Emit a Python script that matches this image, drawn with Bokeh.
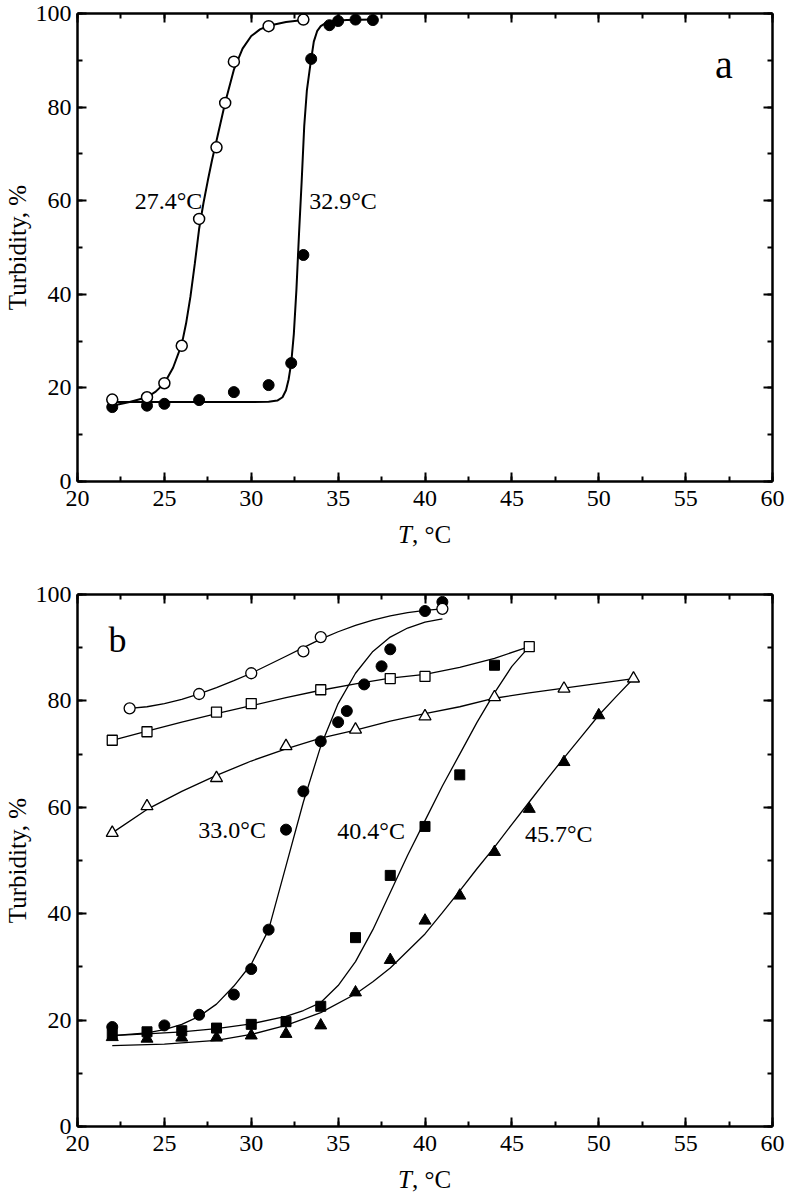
from bokeh.plotting import figure
from bokeh.models import Range1d, LinearAxis, SingleIntervalTicker, Label
from bokeh.layouts import column
from bokeh.core.properties import value
from bokeh.embed import file_html
from bokeh.resources import INLINE

FONT = "Liberation Serif"

# ---------------- Panel a data ----------------
a_open_T = [22, 24, 25, 26, 27, 28, 28.5, 29, 31, 33]
a_open_v = [17.5, 18.0, 21.0, 29.0, 56.1, 71.4, 80.9, 89.7, 97.3, 98.7]
a_fill_T = [22, 24, 25, 27, 29, 31, 32.3, 33, 33.45, 34.5, 35, 36, 37]
a_fill_v = [15.9, 16.2, 16.6, 17.4, 19.1, 20.6, 25.3, 48.4, 90.3, 97.5, 98.4, 98.7, 98.6]

a_open_fit_T = [22, 23, 24, 24.5, 25, 25.5, 26, 26.25, 26.5, 26.75, 27, 27.25, 27.5, 27.75,
                28, 28.5, 29, 29.5, 30, 30.5, 31, 32, 33]
a_open_fit_v = [16.2, 17.0, 18.0, 19.2, 21.0, 24.3, 29.3, 33.8, 39.5, 46.5, 54.0, 59.5, 64.3, 68.8,
                72.8, 81.0, 88.0, 92.5, 95.2, 96.6, 97.4, 98.2, 98.6]
a_fill_fit_T = [22, 24, 26, 28, 30, 31, 31.5, 31.8, 32.0, 32.15, 32.3, 32.45, 32.6, 32.75, 32.9,
                33.05, 33.2, 33.4, 33.6, 33.8, 34.0, 34.3, 34.7, 35.5, 37]
a_fill_fit_v = [17.0, 17.0, 17.0, 17.0, 17.0, 17.05, 17.3, 18.0, 19.5, 21.8, 25.3, 31.5, 41.0, 53.0, 64.0,
                76.0, 83.5, 89.0, 94.0, 96.3, 97.3, 98.0, 98.4, 98.6, 98.7]

a_labels = ["27.4°C", "32.9°C"]

# ---------------- Panel b data ----------------
b_oc_T = [23, 27, 30, 33, 34, 41]
b_oc_v = [78.6, 81.3, 85.2, 89.3, 92.0, 97.3]
b_fc_T = [22, 25, 27, 29, 30, 31, 32, 33, 34, 35, 35.5, 36.5, 37.5, 38, 40, 41]
b_fc_v = [18.7, 19.0, 21.0, 24.8, 29.6, 37.0, 55.8, 63.0, 72.4, 76.0, 78.1, 83.1, 86.5, 89.7, 96.9, 98.6]
b_os_T = [22, 24, 28, 30, 34, 38, 40, 46]
b_os_v = [72.6, 74.2, 77.9, 79.5, 82.1, 84.2, 84.6, 90.2]
b_fs_T = [22, 24, 26, 28, 30, 32, 34, 36, 38, 40, 42, 44]
b_fs_v = [17.3, 17.8, 18.0, 18.5, 19.2, 19.7, 22.6, 35.5, 47.2, 56.4, 66.1, 86.7]
b_ot_T = [22, 24, 28, 32, 36, 40, 44, 48, 52]
b_ot_v = [55.2, 60.2, 65.5, 71.5, 74.6, 77.1, 80.7, 82.3, 84.2]
b_ft_T = [22, 24, 26, 28, 30, 32, 34, 36, 38, 40, 42, 44, 46, 48, 50]
b_ft_v = [16.8, 16.5, 16.7, 16.7, 17.1, 17.4, 19.0, 25.2, 31.3, 38.7, 43.4, 51.6, 59.7, 68.5, 77.3]

b_oc_fit_T = [23, 24, 25, 26, 27, 28, 29, 30, 31, 32, 33, 34, 35, 36, 37, 38, 39, 40, 41]
b_oc_fit_v = [78.6, 78.9, 79.5, 80.3, 81.3, 82.5, 83.8, 85.2, 86.8, 88.4, 90.0, 91.6, 93.0, 94.2,
              95.2, 96.0, 96.6, 97.0, 97.3]
b_fc_fit_T = [22, 24, 25, 26, 27, 28, 29, 30, 31, 32, 33, 34, 35, 36, 37, 38, 39, 40, 41]
b_fc_fit_v = [17.1, 17.6, 18.2, 19.2, 20.7, 23.0, 26.4, 30.5, 37.0, 49.0, 61.0, 71.5, 79.5, 85.2,
              89.3, 92.0, 93.7, 94.8, 95.4]
b_os_fit_T = [22, 24, 26, 28, 30, 32, 34, 36, 38, 40, 42, 44, 46]
b_os_fit_v = [72.6, 74.3, 76.0, 77.6, 79.1, 80.6, 82.0, 83.2, 84.3, 85.0, 86.3, 88.0, 90.2]
b_fs_fit_T = [22, 24, 26, 28, 30, 32, 33, 34, 35, 36, 37, 38, 39, 40, 41, 42, 43, 44, 45, 46]
b_fs_fit_v = [17.1, 17.4, 17.8, 18.4, 19.3, 20.7, 21.8, 23.3, 26.5, 31.0, 37.0, 44.0, 51.0, 57.5,
              64.0, 70.0, 76.0, 81.5, 86.5, 90.2]
b_ot_fit_T = [22, 24, 26, 28, 30, 32, 34, 36, 38, 40, 42, 44, 46, 48, 50, 52]
b_ot_fit_v = [55.2, 59.6, 63.0, 66.0, 68.7, 71.0, 73.0, 74.5, 76.2, 77.6, 78.9, 80.5, 81.5, 82.4,
              83.3, 84.2]
b_ft_fit_T = [22, 25, 28, 30, 32, 34, 36, 37, 38, 39, 40, 41, 42, 43, 44, 45, 46, 47, 48, 49, 50, 51, 52]
b_ft_fit_v = [15.2, 15.5, 16.2, 17.3, 19.0, 21.4, 24.9, 27.2, 29.8, 33.0, 36.2, 40.2, 44.3, 48.5,
              52.5, 56.8, 61.0, 65.2, 69.3, 73.3, 77.3, 80.8, 84.2]

b_labels = ["33.0°C", "40.4°C", "45.7°C"]

X_TICK_STEP = 5
Y_TICK_STEP = 20
W = 790
BL, BR = 77, 18


def style_axis(ax, show_labels):
    ax.axis_line_width = 2.5
    ax.axis_line_color = "black"
    ax.major_tick_in = 9
    ax.major_tick_out = 0
    ax.minor_tick_in = 5
    ax.minor_tick_out = 0
    ax.major_tick_line_width = 2
    ax.minor_tick_line_width = 2
    ax.major_tick_line_color = "black"
    ax.minor_tick_line_color = "black"
    if show_labels:
        ax.major_label_text_font = FONT
        ax.major_label_text_font_size = "24px"
        ax.major_label_text_color = "black"
    else:
        ax.major_label_text_font_size = "1px"
        ax.major_label_text_color = None
        ax.major_label_standoff = 0


def make_fig(height, top, bottom):
    p = figure(width=W, height=height, x_range=Range1d(20, 60), y_range=Range1d(0, 100),
               output_backend="svg", toolbar_location=None,
               x_axis_type=None, y_axis_type=None,
               min_border_left=BL, min_border_right=BR,
               min_border_top=top, min_border_bottom=bottom)
    p.outline_line_color = None
    p.background_fill_color = "white"
    p.border_fill_color = "white"
    xt = SingleIntervalTicker(interval=X_TICK_STEP, num_minor_ticks=2)
    yt = SingleIntervalTicker(interval=Y_TICK_STEP, num_minor_ticks=2)
    xb = LinearAxis(ticker=xt)
    style_axis(xb, True)
    xb.major_label_standoff = 9
    p.add_layout(xb, "below")
    xa = LinearAxis(ticker=xt)
    style_axis(xa, False)
    p.add_layout(xa, "above")
    yl = LinearAxis(ticker=yt)
    style_axis(yl, True)
    yl.major_label_standoff = 6
    yl.axis_label = "Turbidity, %"
    yl.axis_label_text_font = FONT
    yl.axis_label_text_font_size = "25px"
    yl.axis_label_text_font_style = "normal"
    yl.axis_label_text_color = "black"
    yl.axis_label_standoff = 2
    p.add_layout(yl, "left")
    yr = LinearAxis(ticker=yt)
    style_axis(yr, False)
    p.add_layout(yr, "right")
    return p


def make_title_strip(height, baseline_from_top):
    s = figure(width=W, height=height, x_range=Range1d(20, 60), y_range=Range1d(0, height),
               output_backend="svg", toolbar_location=None,
               x_axis_type=None, y_axis_type=None,
               min_border_left=BL, min_border_right=BR, min_border_top=0, min_border_bottom=0)
    s.outline_line_color = None
    s.background_fill_color = "white"
    s.border_fill_color = "white"
    yb = height - baseline_from_top
    s.text(x=[40], y=[yb], text=["T"], x_offset=-13, text_align="right",
           text_baseline="alphabetic", text_font=value(FONT), text_font_size="25px",
           text_font_style="italic", text_color="black")
    s.text(x=[40], y=[yb], text=[", °C"], x_offset=-13, text_align="left",
           text_baseline="alphabetic", text_font=value(FONT), text_font_size="25px",
           text_color="black")
    return s


def add_text(p, x, y, text, size="24px"):
    p.add_layout(Label(x=x, y=y, text=text, text_align="center", text_baseline="middle",
                       text_font=FONT, text_font_size=size, text_color="black"))


# ---------------- Panel a ----------------
pa = make_fig(13 + 468 + 38, 13, 38)
pa.line(a_open_fit_T, a_open_fit_v, line_color="black", line_width=2)
pa.line(a_fill_fit_T, a_fill_fit_v, line_color="black", line_width=2)
pa.scatter(a_fill_T, a_fill_v, marker="circle", size=11, fill_color="black", line_color="black")
pa.scatter(a_open_T, a_open_v, marker="circle", size=11, fill_color="white",
           line_color="black", line_width=1.5)
add_text(pa, 25.24, 60.0, a_labels[0])
add_text(pa, 35.28, 60.0, a_labels[1])
add_text(pa, 57.2, 89.2, "a", size="40px")

ta = make_title_strip(28, 15)

# ---------------- Panel b ----------------
pb = make_fig(47 + 532 + 37, 47, 37)
for T, v in [(b_oc_fit_T, b_oc_fit_v), (b_fc_fit_T, b_fc_fit_v), (b_os_fit_T, b_os_fit_v),
             (b_fs_fit_T, b_fs_fit_v), (b_ot_fit_T, b_ot_fit_v), (b_ft_fit_T, b_ft_fit_v)]:
    pb.line(T, v, line_color="black", line_width=1.3)
pb.scatter(b_ft_T, b_ft_v, marker="triangle", size=12, fill_color="black", line_color="black")
pb.scatter(b_fs_T, b_fs_v, marker="square", size=10, fill_color="black", line_color="black")
pb.scatter(b_fc_T, b_fc_v, marker="circle", size=11, fill_color="black", line_color="black")
pb.scatter(b_oc_T, b_oc_v, marker="circle", size=11, fill_color="white", line_color="black",
           line_width=1.3)
pb.scatter(b_os_T, b_os_v, marker="square", size=10, fill_color="white", line_color="black",
           line_width=1.3)
pb.scatter(b_ot_T, b_ot_v, marker="triangle", size=12, fill_color="white", line_color="black",
           line_width=1.3)
add_text(pb, 28.9, 55.8, b_labels[0])
add_text(pb, 36.9, 55.5, b_labels[1])
add_text(pb, 47.7, 55.0, b_labels[2])
add_text(pb, 22.3, 91.4, "b", size="36px")

tb = make_title_strip(31, 16)

layout = column(pa, ta, pb, tb, spacing=0)
open("out.html", "w").write(file_html(layout, INLINE))
